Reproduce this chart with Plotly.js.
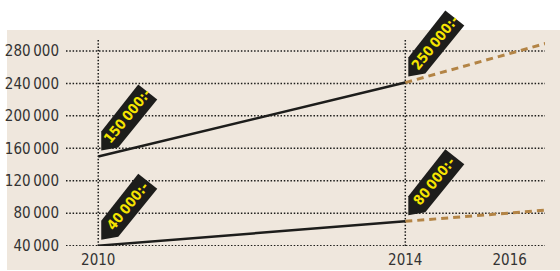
<!DOCTYPE html>
<html>
<head>
<meta charset="utf-8">
<script src="https://cdn.plot.ly/plotly-3.0.1.min.js"></script>
<style>html,body{margin:0;padding:0;background:#fff;}#chart{width:560px;height:271px;}</style>
</head>
<body>
<div id="chart"></div>
<script>
// ---- data ----
var years = [2010, 2014];
var upperValues = [150000, 241000];
var lowerValues = [40000, 70000];
var projYears = [2014, 2015.86];
var upperProj = [241000, 290000];
var lowerProj = [70000, 84000];
var yTickVals = [40000, 80000, 120000, 160000, 200000, 240000, 280000];
var yTickText = ["40\u2009000", "80\u2009000", "120\u2009000", "160\u2009000", "200\u2009000", "240\u2009000", "280\u2009000"];
var xTickVals = [2010, 2014, 2015.36];
var xTickText = ["2010", "2014", "2016"];
var gridYears = [2010, 2014];
var gridTop = 293500;
var calloutX = [2010, 2014, 2010, 2014];
var calloutY = [150000, 241000, 40000, 70000];
var calloutText = ["150\u2009000:-", "250\u2009000:-", "40\u2009000:-", "80\u2009000:-"];

var FONT = '"Liberation Sans Narrow", "DejaVu Sans Condensed", "Roboto Condensed", sans-serif';
var INK = '#1d1d1b';
var GOLD = '#b38445';

var traces = [
  {x: projYears, y: upperProj, mode: 'lines', line: {color: GOLD, width: 3, dash: '7px,5px'}, hoverinfo: 'skip', cliponaxis: false},
  {x: projYears, y: lowerProj, mode: 'lines', line: {color: GOLD, width: 3, dash: '7px,5px'}, hoverinfo: 'skip', cliponaxis: false},
  {x: years, y: upperValues, mode: 'lines', line: {color: INK, width: 2.5}, hoverinfo: 'skip', cliponaxis: false},
  {x: years, y: lowerValues, mode: 'lines', line: {color: INK, width: 2.5}, hoverinfo: 'skip', cliponaxis: false}
];

// plot area spans y = 2..246 px; beige panel y = 30..270, x = 7..560
var shapes = [
  {type: 'rect', xref: 'paper', yref: 'paper', x0: -0.2, x1: 1.1, y0: 0.8852, y1: 1.05,
   fillcolor: '#ffffff', line: {width: 0}, layer: 'below'},
  {type: 'rect', xref: 'paper', yref: 'paper', x0: -0.1232, x1: 1.04, y0: -0.0984, y1: 0.8852,
   fillcolor: '#efe7dd', line: {width: 0}, layer: 'below'}
];
// horizontal grid lines (span full width)
yTickVals.forEach(function (v) {
  shapes.push({type: 'line', xref: 'paper', yref: 'y', x0: 0, x1: 1, y0: v, y1: v,
    line: {color: INK, width: 1.5, dash: '1.5px,1.8px'}, layer: 'below'});
});
gridYears.forEach(function (yr) {
  shapes.push({type: 'line', xref: 'x', yref: 'y', x0: yr, x1: yr, y0: 39600, y1: gridTop,
    line: {color: INK, width: 1.5, dash: '1.5px,1.8px'}, layer: 'below'});
});

var annotations = [];
for (var i = 0; i < calloutText.length; i++) {
  shapes.push({
    type: 'path', xref: 'x', yref: 'y', xsizemode: 'pixel', ysizemode: 'pixel',
    xanchor: calloutX[i], yanchor: calloutY[i],
    path: 'M3,6 L3,25 L40,72 L59,57 L20,9 Z',
    fillcolor: INK, line: {width: 0}, layer: 'above'
  });
  annotations.push({
    x: calloutX[i], y: calloutY[i], xref: 'x', yref: 'y',
    text: '<b>' + calloutText[i] + '</b>', showarrow: false,
    textangle: -51, xshift: 29, yshift: 40,
    font: {family: FONT, size: 14, color: '#f5e400'}
  });
}

var layout = {
  width: 560, height: 271,
  margin: {l: 66, r: 15, t: 2, b: 25, pad: 0},
  paper_bgcolor: '#ffffff', plot_bgcolor: 'rgba(0,0,0,0)',
  showlegend: false,
  xaxis: {
    range: [2009.58, 2015.82], tickvals: xTickVals, ticktext: xTickText,
    showgrid: false, zeroline: false, showline: false, ticks: '',
    ticklabelstandoff: 3,
    tickfont: {family: FONT, size: 15, color: '#333333'}, fixedrange: true
  },
  yaxis: {
    range: [39600, 340300], tickvals: yTickVals, ticktext: yTickText,
    showgrid: false, zeroline: false, showline: false, ticks: '', ticklabelstandoff: 6,
    tickfont: {family: FONT, size: 15, color: '#333333'}, fixedrange: true
  },
  shapes: shapes,
  annotations: annotations
};

Plotly.newPlot('chart', traces, layout, {displayModeBar: false, staticPlot: true});
</script>
</body>
</html>
